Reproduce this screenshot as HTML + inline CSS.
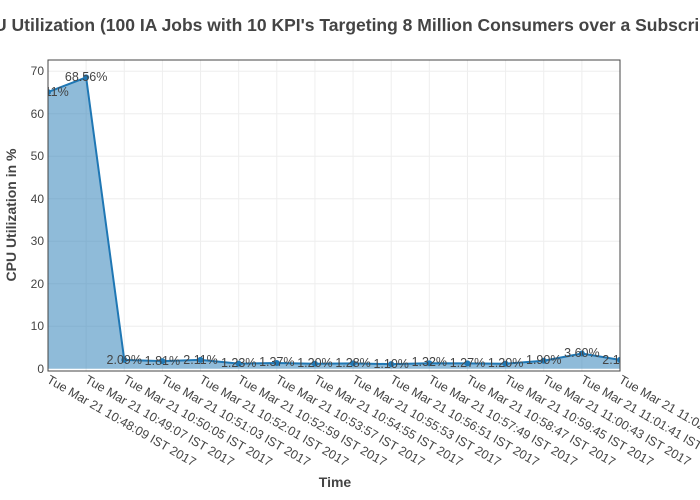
<!DOCTYPE html>
<html><head><style>body{margin:0;background:#fff}svg{display:block;font-family:"Liberation Sans",sans-serif}</style></head>
<body>
<svg width="700" height="500" viewBox="0 0 700 500">
<defs><clipPath id="c"><rect x="48" y="60" width="572" height="311"/></clipPath></defs>
<text x="-6" y="31" font-size="17.5" font-weight="bold" fill="#444">U Utilization (100 IA Jobs with 10 KPI's Targeting 8 Million Consumers over a Subscriber</text>
<g stroke="#eee" stroke-width="1">
<line x1="48" x2="620" y1="71.3" y2="71.3"/><line x1="48" x2="620" y1="113.8" y2="113.8"/><line x1="48" x2="620" y1="156.3" y2="156.3"/><line x1="48" x2="620" y1="198.8" y2="198.8"/><line x1="48" x2="620" y1="241.3" y2="241.3"/><line x1="48" x2="620" y1="283.8" y2="283.8"/><line x1="48" x2="620" y1="326.3" y2="326.3"/>
<line x1="86.13" x2="86.13" y1="60" y2="371"/><line x1="124.27" x2="124.27" y1="60" y2="371"/><line x1="162.4" x2="162.4" y1="60" y2="371"/><line x1="200.53" x2="200.53" y1="60" y2="371"/><line x1="238.67" x2="238.67" y1="60" y2="371"/><line x1="276.8" x2="276.8" y1="60" y2="371"/><line x1="314.93" x2="314.93" y1="60" y2="371"/><line x1="353.07" x2="353.07" y1="60" y2="371"/><line x1="391.2" x2="391.2" y1="60" y2="371"/><line x1="429.33" x2="429.33" y1="60" y2="371"/><line x1="467.47" x2="467.47" y1="60" y2="371"/><line x1="505.6" x2="505.6" y1="60" y2="371"/><line x1="543.73" x2="543.73" y1="60" y2="371"/><line x1="581.87" x2="581.87" y1="60" y2="371"/>
</g>
<g clip-path="url(#c)">
<polygon points="48,368.8 48,92.08 86.13,77.42 124.27,359.92 162.4,361.11 200.53,359.83 238.67,363.57 276.8,362.98 314.93,363.7 353.07,363.36 391.2,364.13 429.33,363.19 467.47,363.4 505.6,363.7 543.73,360.73 581.87,353.5 620,359.88 620,368.8" fill="rgba(31,119,180,0.5)"/>
<polyline points="48,92.08 86.13,77.42 124.27,359.92 162.4,361.11 200.53,359.83 238.67,363.57 276.8,362.98 314.93,363.7 353.07,363.36 391.2,364.13 429.33,363.19 467.47,363.4 505.6,363.7 543.73,360.73 581.87,353.5 620,359.88" fill="none" stroke="#1f77b4" stroke-width="2"/>
<g fill="#1f77b4">
<circle cx="48" cy="92.08" r="3"/><circle cx="86.13" cy="77.42" r="3"/><circle cx="124.27" cy="359.92" r="3"/><circle cx="162.4" cy="361.11" r="3"/><circle cx="200.53" cy="359.83" r="3"/><circle cx="238.67" cy="363.57" r="3"/><circle cx="276.8" cy="362.98" r="3"/><circle cx="314.93" cy="363.7" r="3"/><circle cx="353.07" cy="363.36" r="3"/><circle cx="391.2" cy="364.13" r="3"/><circle cx="429.33" cy="363.19" r="3"/><circle cx="467.47" cy="363.4" r="3"/><circle cx="505.6" cy="363.7" r="3"/><circle cx="543.73" cy="360.73" r="3"/><circle cx="581.87" cy="353.5" r="3"/><circle cx="620" cy="359.88" r="3"/>
</g>
<g font-size="12.5" fill="#444" text-anchor="middle">
<text x="48" y="96">65.11%</text><text x="86.13" y="81">68.56%</text><text x="124.27" y="364">2.09%</text><text x="162.4" y="365">1.81%</text><text x="200.53" y="364">2.11%</text><text x="238.67" y="367">1.23%</text><text x="276.8" y="366">1.37%</text><text x="314.93" y="367">1.20%</text><text x="353.07" y="367">1.28%</text><text x="391.2" y="368">1.10%</text><text x="429.33" y="366">1.32%</text><text x="467.47" y="367">1.27%</text><text x="505.6" y="367">1.20%</text><text x="543.73" y="364">1.90%</text><text x="581.87" y="357">3.60%</text><text x="620" y="364">2.10%</text>
</g>
</g>
<rect x="48" y="60" width="572" height="311" fill="none" stroke="#444" stroke-width="1"/>
<g font-size="12" fill="#444" text-anchor="end">
<text x="44" y="75">70</text><text x="44" y="118">60</text><text x="44" y="160">50</text><text x="44" y="203">40</text><text x="44" y="245">30</text><text x="44" y="288">20</text><text x="44" y="330">10</text><text x="44" y="373">0</text>
</g>
<g font-size="12.5" fill="#444">
<text transform="translate(46,382) rotate(30)">Tue Mar 21 10:48:09 IST 2017</text>
<text transform="translate(84.13,382) rotate(30)">Tue Mar 21 10:49:07 IST 2017</text>
<text transform="translate(122.27,382) rotate(30)">Tue Mar 21 10:50:05 IST 2017</text>
<text transform="translate(160.4,382) rotate(30)">Tue Mar 21 10:51:03 IST 2017</text>
<text transform="translate(198.53,382) rotate(30)">Tue Mar 21 10:52:01 IST 2017</text>
<text transform="translate(236.67,382) rotate(30)">Tue Mar 21 10:52:59 IST 2017</text>
<text transform="translate(274.8,382) rotate(30)">Tue Mar 21 10:53:57 IST 2017</text>
<text transform="translate(312.93,382) rotate(30)">Tue Mar 21 10:54:55 IST 2017</text>
<text transform="translate(351.07,382) rotate(30)">Tue Mar 21 10:55:53 IST 2017</text>
<text transform="translate(389.2,382) rotate(30)">Tue Mar 21 10:56:51 IST 2017</text>
<text transform="translate(427.33,382) rotate(30)">Tue Mar 21 10:57:49 IST 2017</text>
<text transform="translate(465.47,382) rotate(30)">Tue Mar 21 10:58:47 IST 2017</text>
<text transform="translate(503.6,382) rotate(30)">Tue Mar 21 10:59:45 IST 2017</text>
<text transform="translate(541.73,382) rotate(30)">Tue Mar 21 11:00:43 IST 2017</text>
<text transform="translate(579.87,382) rotate(30)">Tue Mar 21 11:01:41 IST 2017</text>
<text transform="translate(618,382) rotate(30)">Tue Mar 21 11:02:39 IST 2017</text>
</g>
<text transform="translate(16,215) rotate(-90)" text-anchor="middle" font-size="14" font-weight="bold" fill="#444">CPU Utilization in %</text>
<text x="335" y="487" text-anchor="middle" font-size="14" font-weight="bold" fill="#444">Time</text>
</svg>
</body></html>
